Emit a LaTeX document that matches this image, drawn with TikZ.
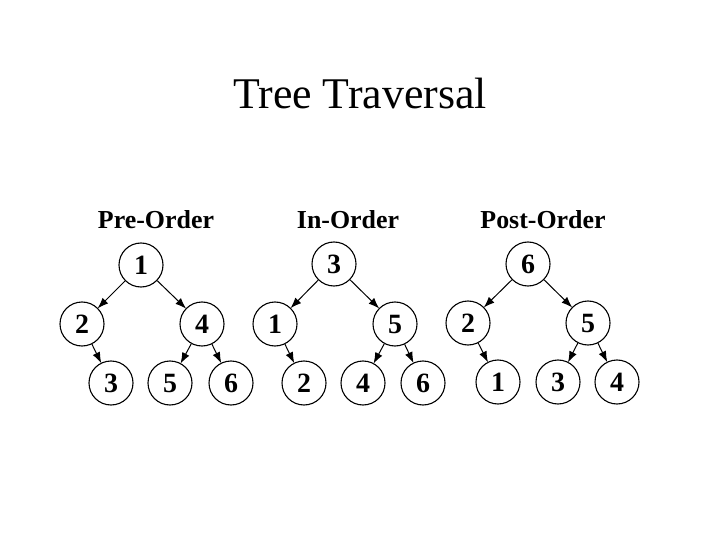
\documentclass[tikz,border=0pt]{standalone}
\usepackage{fontspec}
\setmainfont{Liberation Serif}
\usetikzlibrary{arrows.meta}
\begin{document}
\begin{tikzpicture}[x=1bp,y=-1bp,
  vert/.style={circle,draw,line width=1.1bp,minimum size=44bp,inner sep=0pt,
    text height=19bp,text depth=0bp,
    font=\fontsize{28}{28}\selectfont\bfseries},
  edge/.style={line width=1bp,-{Latex[length=11bp,width=8bp]},shorten >=-0.5bp},
  heading/.style={anchor=base,inner sep=0pt,font=\fontsize{26}{26}\selectfont\bfseries},
  titletext/.style={anchor=base,inner sep=0pt,font=\fontsize{44}{44}\selectfont}]
\useasboundingbox (0,0) rectangle (720,540);
\node[titletext] (title) at (360,109) {Tree Traversal};
% Pre-order
\node[heading] (hpre) at (156,229) {Pre-Order};
\node[vert] (a1) at (141,265) {1};
\node[vert] (a2) at (82,324) {2};
\node[vert] (a4) at (202,324) {4};
\node[vert] (a3) at (111,383) {3};
\node[vert] (a5) at (170,383) {5};
\node[vert] (a6) at (231,383) {6};
\draw[edge] (a1) -- (a2);
\draw[edge] (a1) -- (a4);
\draw[edge] (a2) -- (a3);
\draw[edge] (a4) -- (a5);
\draw[edge] (a4) -- (a6);
% In-order
\node[heading] (hin) at (348,229) {In-Order};
\node[vert] (b3) at (334,264) {3};
\node[vert] (b1) at (275,324) {1};
\node[vert] (b5) at (395,324) {5};
\node[vert] (b2) at (304,383) {2};
\node[vert] (b4) at (363,383) {4};
\node[vert] (b6) at (423,383) {6};
\draw[edge] (b3) -- (b1);
\draw[edge] (b3) -- (b5);
\draw[edge] (b1) -- (b2);
\draw[edge] (b5) -- (b4);
\draw[edge] (b5) -- (b6);
% Post-order
\node[heading] (hpost) at (543,229) {Post-Order};
\node[vert] (c6) at (528,264) {6};
\node[vert] (c2) at (468,323) {2};
\node[vert] (c5) at (588,323) {5};
\node[vert] (c1) at (498,382) {1};
\node[vert] (c3) at (558,382) {3};
\node[vert] (c4) at (617,382) {4};
\draw[edge] (c6) -- (c2);
\draw[edge] (c6) -- (c5);
\draw[edge] (c2) -- (c1);
\draw[edge] (c5) -- (c3);
\draw[edge] (c5) -- (c4);
\end{tikzpicture}
\end{document}
